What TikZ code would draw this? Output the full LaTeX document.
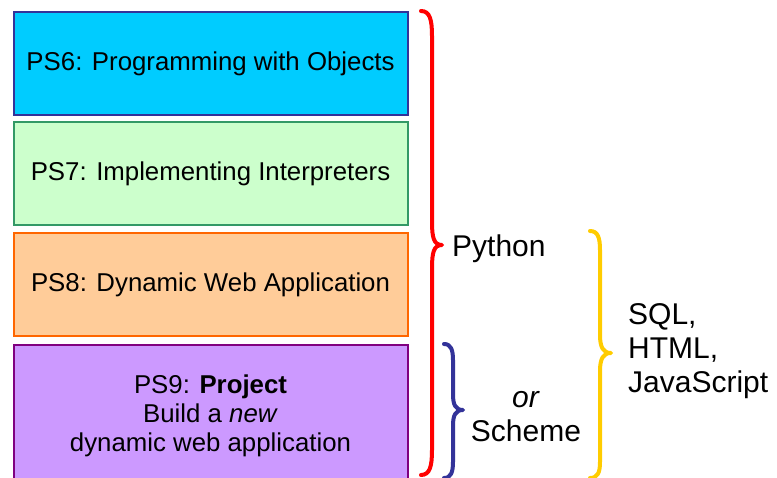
\documentclass[tikz,border=0pt]{standalone}
\usepackage{fontspec}
\setmainfont{Liberation Sans}
\definecolor{c6}{HTML}{00CCFF}\definecolor{b6}{HTML}{333399}
\definecolor{c7}{HTML}{CCFFCC}\definecolor{b7}{HTML}{339966}
\definecolor{c8}{HTML}{FFCC99}\definecolor{b8}{HTML}{FF6600}
\definecolor{c9}{HTML}{CC99FF}\definecolor{b9}{HTML}{800080}
\definecolor{bred}{HTML}{FF0000}\definecolor{bblue}{HTML}{333399}\definecolor{byel}{HTML}{FFCC00}
\begin{document}
\begin{tikzpicture}[x=1pt,y=-1pt,
  box/.style={draw, line width=2pt, inner sep=0pt, anchor=north west, align=center,
    minimum width=394pt, font=\fontsize{25.8}{29}\selectfont},
  lbl/.style={inner sep=0pt, anchor=base west, font=\fontsize{30}{34}\selectfont},
  brc/.style={line width=4pt, line cap=round, line join=round}]
\useasboundingbox (0,0) rectangle (777,478);
\clip (0,0) rectangle (777,478);
\node[box, fill=c6, draw=b6, minimum height=103pt] (ps6) at (12.5,11.5) {PS6: Programming with Objects};
\node[box, fill=c7, draw=b7, minimum height=103pt] (ps7) at (12.5,121.5) {PS7: Implementing Interpreters};
\node[box, fill=c8, draw=b8, minimum height=103pt] (ps8) at (12.5,232) {PS8: Dynamic Web Application};
\node[box, fill=c9, draw=b9, minimum height=141pt] (ps9) at (12.5,344) {PS9: \textbf{Project}\\Build a \textit{new}\\dynamic web application};
% red brace
\draw[brc, bred] (421,11) .. controls (430,11) and (432,20) .. (432,36) -- (432,222)
  .. controls (432,238) and (434,245) .. (442,245)
  .. controls (434,245) and (432,252) .. (432,268) -- (432,450)
  .. controls (432,466) and (430,475) .. (421,475);
% blue brace
\draw[brc, bblue] (444,344) .. controls (451,344) and (453,350) .. (453,360) -- (453,394)
  .. controls (453,404) and (455,410) .. (463,410)
  .. controls (455,410) and (453,416) .. (453,426) -- (453,462)
  .. controls (453,472) and (451,478) .. (444,478);
% yellow brace
\draw[brc, byel] (590,231) .. controls (598,231) and (600,238) .. (600,250) -- (600,335)
  .. controls (600,347) and (603,353) .. (611,353)
  .. controls (603,353) and (600,359) .. (600,371) -- (600,462)
  .. controls (600,472) and (598,478) .. (590,478);
\node[lbl] (python) at (452,257) {Python};
\node[lbl, anchor=base] (or) at (526,408) {\textit{or}};
\node[lbl, anchor=base] (scheme) at (526,442) {Scheme};
\node[lbl] (sql) at (628,325) {SQL,};
\node[lbl] (html) at (628,359) {HTML,};
\node[lbl] (js) at (628,393) {JavaScript};
\end{tikzpicture}
\end{document}
